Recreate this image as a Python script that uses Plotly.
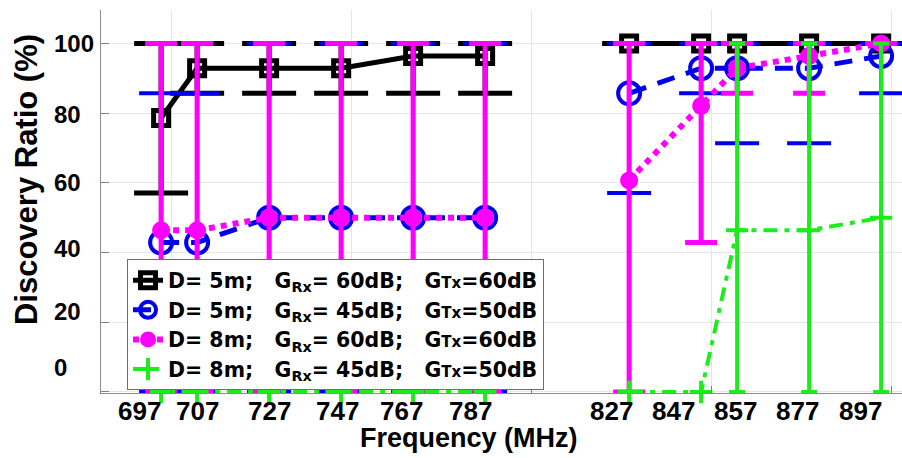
import plotly.graph_objects as go

# ---------------- data ----------------
FREQ = [697, 707, 727, 747, 767, 787, 827, 847, 857, 877, 897]
FREQ_LABELS = ["697", "707", "727", "747", "767", "787", "827", "847", "857", "877", "897"]
Y_LABELS = ["100", "80", "60", "40", "20", "0"]

SP = "&nbsp;"
SMALL = "<span style='font-size:15px'>{}</span>"
S1_NAME = "D= 5m;" + SP * 3 + "G<sub>Rx</sub>= 60dB;" + SP * 3 + "G" + SMALL.format("Tx") + "=60dB"
S1_MEAN = [78.6, 92.9, 92.9, 92.9, 96.4, 96.4, 100, 100, 100, 100, 100]
S1_LOW = [57.1, 85.7, 85.7, 85.7, 85.7, 85.7, 100, 100, 100, 100, 100]
S1_HIGH = [100, 100, 100, 100, 100, 100, 100, 100, 100, 100, 100]

S2_NAME = "D= 5m;" + SP * 3 + "G<sub>Rx</sub>= 45dB;" + SP * 3 + "G" + SMALL.format("Tx") + "=50dB"
S2_MEAN = [42.9, 42.9, 50, 50, 50, 50, 85.7, 92.9, 92.9, 92.9, 96.4]
S2_LOW = [0, 0, 0, 0, 0, 0, 57.1, 85.7, 71.4, 71.4, 85.7]
S2_HIGH = [85.7, 85.7, 100, 100, 100, 100, 100, 100, 100, 100, 100]

S3_NAME = "D= 8m;" + SP * 3 + "G<sub>Rx</sub>= 60dB;" + SP * 3 + "G" + SMALL.format("Tx") + "=60dB"
S3_MEAN = [46.4, 46.4, 50, 50, 50, 50, 60.7, 82.1, 92.9, 96.4, 100]
S3_LOW = [0, 0, 0, 0, 0, 0, 0, 42.9, 85.7, 85.7, 100]
S3_HIGH = [100, 100, 100, 100, 100, 100, 100, 100, 100, 100, 100]

S4_NAME = "D= 8m;" + SP * 3 + "G<sub>Rx</sub>= 45dB;" + SP * 3 + "G" + SMALL.format("Tx") + "=50dB"
S4_MEAN = [0, 0, 0, 0, 0, 0, 0, 0, 46.4, 46.4, 50]
S4_LOW = [0, 0, 0, 0, 0, 0, 0, 0, 0, 0, 0]
S4_HIGH = [0, 0, 0, 0, 0, 0, 0, 0, 100, 100, 100]

# the two frequency bands are drawn as separate line segments
BAND1 = 6

# ---------------- styling ----------------
FONT = "Liberation Sans, Arial, sans-serif"
LEGEND_FONT = "DejaVu Sans, sans-serif"
BLACK = "#000000"
BLUE = "rgb(0,0,235)"
MAGENTA = "rgb(255,0,255)"
GREEN = "rgb(30,235,30)"

fig = go.Figure()


def gap(v):
    return list(v[:BAND1]) + [None] + list(v[BAND1:])


def add_series(name, mean, low, high, color, dash, lw, symbol, msize, mlw, mfill, capw, thick):
    up = [h - m for h, m in zip(high, mean)]
    dn = [m - l for m, l in zip(mean, low)]
    fig.add_trace(go.Scatter(
        x=gap(FREQ), y=gap(mean), name=name, mode="lines+markers",
        connectgaps=False,
        line=dict(color=color, width=lw, dash=dash),
        marker=dict(symbol=symbol, size=msize, color=mfill,
                    line=dict(color=color, width=mlw)),
        error_y=dict(type="data", symmetric=False,
                     array=gap(up), arrayminus=gap(dn),
                     color=color, thickness=thick, width=capw),
        cliponaxis=False,
    ))


add_series(S1_NAME, S1_MEAN, S1_LOW, S1_HIGH, BLACK, "solid", 5,
           "square-open", 15, 5, BLACK, 27, 5)
add_series(S2_NAME, S2_MEAN, S2_LOW, S2_HIGH, BLUE, "18px,12px", 5,
           "circle-open", 22, 4, BLUE, 22, 4)
add_series(S3_NAME, S3_MEAN, S3_LOW, S3_HIGH, MAGENTA, "6px,6px", 6,
           "circle", 18, 0, MAGENTA, 16, 5)
add_series(S4_NAME, S4_MEAN, S4_LOW, S4_HIGH, GREEN, "14px,7px,5px,7px", 4,
           "cross-thin-open", 16, 4, GREEN, 8, 4)

# tick label anchor positions (labels in the source are placed by hand)
X_LABEL_POS = [691.0, 707.2, 727.2, 746.1, 763.9, 782.8, 822.2, 839.2, 856.6, 873.9, 891.3]
Y_LABEL_POS = [99.9, 79.6, 60.1, 41.2, 23.2, 7.1]

annotations = []
for lab, xp in zip(FREQ_LABELS, X_LABEL_POS):
    annotations.append(dict(text="<b>" + lab + "</b>", x=xp, y=-0.046, xref="x", yref="paper",
                            showarrow=False, xanchor="center", yanchor="middle",
                            font=dict(family=FONT, size=26, color="black")))
for lab, yp in zip(Y_LABELS, Y_LABEL_POS):
    annotations.append(dict(text="<b>" + lab + "</b>", x=-0.0612, y=yp, xref="paper", yref="y",
                            showarrow=False, xanchor="left", yanchor="middle",
                            font=dict(family=FONT, size=24, color="black")))
annotations.append(dict(text="<b>Frequency (MHz)</b>", x=0.459, y=-0.118,
                        xref="paper", yref="paper", showarrow=False,
                        xanchor="center", yanchor="middle",
                        font=dict(family=FONT, size=27, color="black")))
annotations.append(dict(text="<b>Discovery Ratio (%)</b>", x=-0.0936, y=0.556,
                        xref="paper", yref="paper", showarrow=False, textangle=-90,
                        xanchor="center", yanchor="middle",
                        font=dict(family=FONT, size=31, color="black")))

fig.update_layout(
    width=902, height=458,
    margin=dict(l=101, r=0, t=10, b=65),
    paper_bgcolor="white", plot_bgcolor="white",
    showlegend=True,
    legend=dict(x=0.0325, y=0.349, xanchor="left", yanchor="top",
                bgcolor="white", bordercolor="#6e6e6e", borderwidth=1,
                font=dict(family=LEGEND_FONT, size=20.5, color="black", weight="bold"),
                itemwidth=30),
    annotations=annotations,
    xaxis=dict(range=[680.3, 902.8], tickvals=[700, 750, 800, 850, 900],
               showticklabels=False, showgrid=True, gridcolor="#e6e6e6", gridwidth=1,
               ticks="inside", ticklen=7, tickcolor="#808080",
               showline=True, linecolor="#8c8c8c", linewidth=1, mirror=False,
               zeroline=False),
    yaxis=dict(range=[-0.3, 109.6], tickvals=[0, 20, 40, 60, 80, 100],
               showticklabels=False, showgrid=True, gridcolor="#e6e6e6", gridwidth=1,
               ticks="inside", ticklen=8, tickcolor="#808080",
               showline=True, linecolor="#8c8c8c", linewidth=1, mirror=False,
               zeroline=False),
)

fig.write_html("out.html")
